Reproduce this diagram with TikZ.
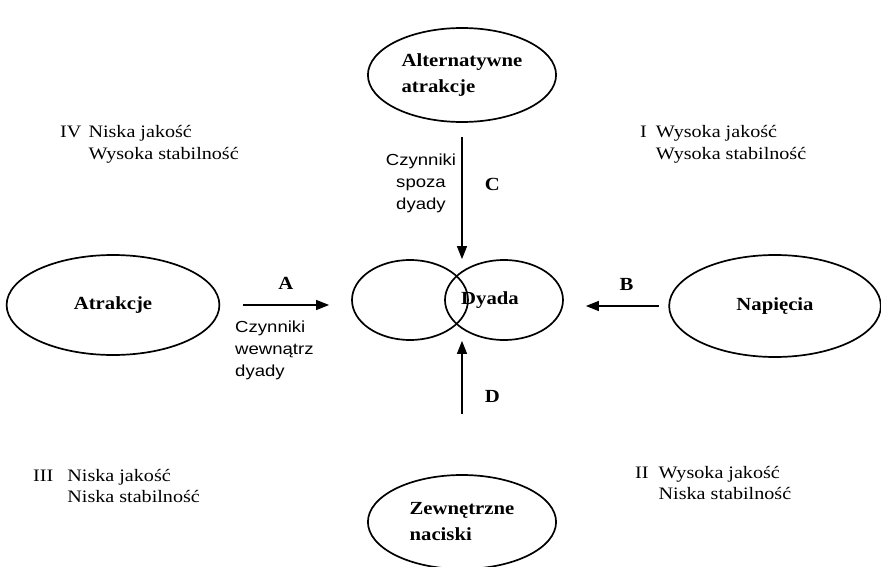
\documentclass[tikz,border=0pt]{standalone}
\usepackage{fontspec}
\setmainfont{Liberation Serif}
\setsansfont{Liberation Sans}
\usepackage{tikz}
\usetikzlibrary{shapes.geometric}
\usetikzlibrary{arrows.meta}
\usetikzlibrary{positioning}

\begin{document}
\begin{tikzpicture}[x=1pt,y=1pt,
  oval/.style={ellipse,draw,line width=1.7pt,inner sep=0pt,xscale=1.12,
    font=\fontsize{18.5}{26}\selectfont\bfseries,align=left},
  ring/.style={ellipse,draw,line width=1.7pt,inner sep=0pt,
    minimum width=116pt,minimum height=80pt},
  lbl/.style={font=\fontsize{18.5}{21}\selectfont\bfseries,xscale=1.12,inner sep=2pt},
  quad/.style={font=\fontsize{17.5}{21.5}\selectfont,xscale=1.15,anchor=base west,inner sep=0pt},
  note/.style={font=\fontsize{16}{22}\selectfont\sffamily,xscale=1.16,inner sep=0pt},
  arr/.style={line width=1.3pt,-{Triangle[length=13pt,width=10pt]}}]
\useasboundingbox (0,0) rectangle (881,566);

% outer factors
\node[oval,minimum width=168pt,minimum height=94pt] (alt) at (462,491) {Alternatywne\\atrakcje};
\node[oval,minimum width=190pt,minimum height=100pt] (atr) at (113,261) {Atrakcje};
\node[oval,minimum width=189pt,minimum height=102pt] (nap) at (775,260) {Napięcia};
\node[oval,minimum width=168pt,minimum height=94pt] (zew) at (462,44) {Zewnętrzne\\naciski};

% the dyad
\node[ring] (dyL) at (410,266) {};
\node[ring,minimum width=118pt] (dyR) at (504,266) {};
\node[lbl] (dyt) at (490,266) {Dyada};

% influences
\draw[arr,shorten <=14pt] (alt.south) -- (alt.south |- dyL.north)
  node[lbl,pos=0.45,right=20pt] (lc) {C};
\draw[arr,shorten <=60pt] (zew.north) -- (zew.north |- dyL.south)
  node[lbl,pos=0.58,right=20pt] (ld) {D};
\draw[arr,shorten <=23pt,shorten >=22pt] (atr.east) -- (atr.east -| dyL.west)
  node[lbl,midway,above=13pt] (la) {A};
\draw[arr,shorten <=9pt,shorten >=22pt] (nap.west) -- (nap.west -| dyR.east)
  node[lbl,pos=0.4,above=13pt] (lb) {B};

\node[note,align=center] (nc) at (421,383) {Czynniki\\spoza\\dyady};
\node[note,align=left,anchor=north west] (na) at (235,245) {Czynniki\\wewnątrz\\dyady};

% quadrants
\node[quad] (q4) at (60,428) {\begin{tabular}[t]{@{}l@{\hspace{0.35em}}l@{}}IV & Niska jakość\\ & Wysoka stabilność\end{tabular}};
\node[quad] (q1) at (640,428) {\begin{tabular}[t]{@{}l@{\hspace{0.45em}}l@{}}I & Wysoka jakość\\ & Wysoka stabilność\end{tabular}};
\node[quad] (q3) at (33,85) {\begin{tabular}[t]{@{}l@{\hspace{0.7em}}l@{}}III & Niska jakość\\ & Niska stabilność\end{tabular}};
\node[quad] (q2) at (635,88) {\begin{tabular}[t]{@{}l@{\hspace{0.5em}}l@{}}II & Wysoka jakość\\ & Niska stabilność\end{tabular}};
\end{tikzpicture}
\end{document}
